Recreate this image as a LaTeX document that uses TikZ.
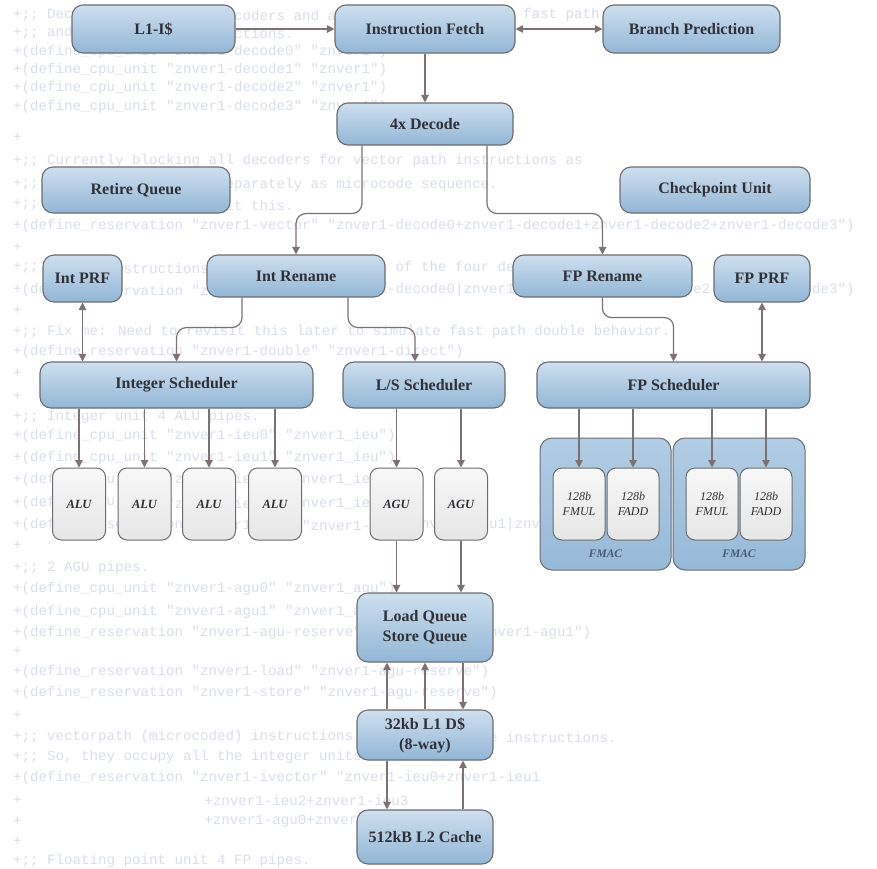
\documentclass[tikz,border=0pt]{standalone}
\usepackage{fontspec}
\usetikzlibrary{arrows.meta}
\newfontfamily\zcode{Liberation Mono}
\newfontfamily\zser{Liberation Serif}
\definecolor{boxtop}{RGB}{206,223,239}
\definecolor{boxbot}{RGB}{146,182,214}
\definecolor{bordc}{RGB}{108,108,112}
\definecolor{unittop}{RGB}{248,248,248}
\definecolor{unitbot}{RGB}{230,230,230}
\definecolor{fmactop}{RGB}{178,205,229}
\definecolor{fmacbot}{RGB}{150,185,216}
\definecolor{connc}{RGB}{125,113,113}
\definecolor{txtc}{RGB}{48,48,54}
\definecolor{fmactxt}{RGB}{72,90,118}
\definecolor{codec}{RGB}{217,222,232}
\newcommand\zbxfont{\zser\bfseries\fontsize{16}{20}\selectfont}
\newcommand\zunitfont{\zser\bfseries\itshape\fontsize{12.5}{15}\selectfont}
\newcommand\zfpfont{\zser\itshape\fontsize{12}{15}\selectfont}
\newcommand\zfmacfont{\zser\bfseries\itshape\fontsize{11.5}{13}\selectfont}
\newcommand\zcodefont{\zcode\fontsize{14.164}{16}\selectfont}
\tikzset{
  box/.style={draw=bordc, line width=1.1pt, rounded corners=11pt, top color=boxtop, bottom color=boxbot,
    font=\zbxfont, text=txtc, inner sep=0pt, align=center},
  unitbox/.style={draw=bordc, line width=1pt, rounded corners=9pt, top color=unittop, bottom color=unitbot,
    font=\zunitfont, text=txtc, inner sep=0pt, align=center, minimum width=53pt, minimum height=72pt},
  fpbox/.style={unitbox, font=\zfpfont, minimum width=52pt},
  fmacbox/.style={draw=bordc, line width=1pt, rounded corners=12pt, top color=fmactop, bottom color=fmacbot,
    inner sep=0pt, minimum height=132pt},
  fmaclbl/.style={font=\zfmacfont, text=fmactxt, inner sep=0pt},
  conn/.style={draw=connc, line width=1.2pt, -{Triangle[width=7.5pt,length=7.5pt]}},
  dconn/.style={draw=connc, line width=1.2pt, {Triangle[width=7.5pt,length=7.5pt]}-{Triangle[width=7.5pt,length=7.5pt]}},
  code/.style={anchor=west, inner sep=0pt, font=\zcodefont, text=codec},
}
% code fragment: column, y, text
\newcommand\cf[3]{\node[code] (cf#2x#1) at ({13+8.5*#1},#2) {#3};}
\begin{document}
\begin{tikzpicture}[x=1pt,y=-1pt]
\useasboundingbox[fill=white] (0,0) rectangle (877,868);

% background code listing (only the parts not hidden by the boxes)
\cf{0}{15}{+;; Dec}\cf{26}{15}{coders and a}\cf{58}{15}{e fast path}
\cf{0}{33}{+;; and}\cf{26}{33}{ctions.}
\cf{0}{52}{+(define\_cpu\_unit "znver1-decode0" "znver1")}
\cf{0}{70}{+(define\_cpu\_unit "znver1-decode1" "znver1")}
\cf{0}{88}{+(define\_cpu\_unit "znver1-decode2" "znver1")}
\cf{0}{107}{+(define\_cpu\_unit "znver1-decode3" "znver1")}
\cf{0}{137}{+}
\cf{0}{161}{+;; Currently blocking all decoders for vector path instructions as}
\cf{0}{185}{+;;}\cf{24}{185}{separately as microcode sequence.}
\cf{0}{205}{+;;}\cf{24}{205}{sit this.}
\cf{0}{226}{+(define\_reservation "znver1-vector" "znver1-decode0+znver1-decode1+znver1-decode2+znver1-decode3")}
\cf{0}{247}{+}
\cf{0}{268}{+;;}\cf{11}{268}{instructions}\cf{43}{268}{y of the four de}
\cf{0}{290}{+(de}\cf{12}{290}{ervation "z}\cf{43}{290}{1-decode0|znver1}\cf{79}{290}{de2|}\cf{93}{290}{ode3")}
\cf{0}{310}{+}
\cf{0}{332}{+;; Fix me: Need to revisit this later to simulate fast path double behavior.}
\cf{0}{352}{+(define\_reservation "znver1-double" "znver1-direct")}
\cf{0}{373}{+}
\cf{0}{396}{+}
\cf{0}{417}{+;; Integer unit 4 ALU pipes.}
\cf{0}{436}{+(define\_cpu\_unit "znver1-ieu0" "znver1\_ieu")}
\cf{0}{458}{+(define\_cpu\_unit "znver1-ieu1" "znver1\_ieu")}
\cf{0}{480}{+(define\_cpu\_unit "znver1-ieu2" "znver1\_ieu")}
\cf{0}{503}{+(def}\cf{10}{503}{pu\_}\cf{18}{503}{"zn}\cf{25}{503}{-ie}\cf{33}{503}{znver1\_ieu}
\cf{0}{525}{+(def}\cf{10}{525}{ese}\cf{18}{525}{on}\cf{25}{525}{er1}\cf{34}{525}{"znver1-i}\cf{47}{525}{znv}\cf{55}{525}{eu1|znv}
\cf{0}{545}{+}
\cf{0}{568}{+;; 2 AGU pipes.}
\cf{0}{589}{+(define\_cpu\_unit "znver1-agu0" "znver1\_agu")}
\cf{0}{612}{+(define\_cpu\_unit "znver1-agu1" "znver1\_a}
\cf{0}{633}{+(define\_reservation "znver1-agu-reserve"}\cf{55}{633}{znver1-agu1")}
\cf{0}{651}{+}
\cf{0}{672}{+(define\_reservation "znver1-load" "znver1-agu-reserve")}
\cf{0}{693}{+(define\_reservation "znver1-store" "znver1-agu-reserve")}
\cf{0}{715}{+}
\cf{0}{737}{+;; vectorpath (microcoded) instructions}\cf{56}{737}{e instructions.}
\cf{0}{757}{+;; So, they occupy all the integer units.}
\cf{0}{778}{+(define\_reservation "znver1-ivector" "znver1-ieu0+znver1-ieu1}
\cf{0}{800}{+}\cf{22.5}{800}{+znver1-ieu2+znver1-ieu3}
\cf{0}{821}{+}\cf{22.5}{821}{+znver1-agu0+znver1-agu1")}
\cf{0}{841}{+}
\cf{0}{861}{+;; Floating point unit 4 FP pipes.}

% main boxes
\node[box, minimum width=163pt, minimum height=48pt] (l1i) at (153.5,29) {L1-I\$};
\node[box, minimum width=180pt, minimum height=48pt] (ifetch) at (425,29) {Instruction Fetch};
\node[box, minimum width=177pt, minimum height=48pt] (bp) at (691.5,29) {Branch Prediction};
\node[box, minimum width=176pt, minimum height=42pt] (dec) at (425,124) {4x Decode};
\node[box, minimum width=188pt, minimum height=46pt] (rq) at (136,190) {Retire Queue};
\node[box, minimum width=190pt, minimum height=46pt] (cpu) at (715,190) {Checkpoint Unit};
\node[box, minimum width=79pt, minimum height=47pt] (iprf) at (82.5,278.5) {Int PRF};
\node[box, minimum width=178pt, minimum height=42pt] (irn) at (296,276) {Int Rename};
\node[box, minimum width=179pt, minimum height=42pt] (fpr) at (602.5,276) {FP Rename};
\node[box, minimum width=96pt, minimum height=47pt] (fpprf) at (762,278.5) {FP PRF};
\node[box, minimum width=273pt, minimum height=46pt] (isch) at (176.5,385) {Integer Scheduler};
\node[box, minimum width=162pt, minimum height=46pt] (lss) at (424,385) {L/S Scheduler};
\node[box, minimum width=273pt, minimum height=46pt] (fps) at (673.5,385) {FP Scheduler};

% execution units
\node[unitbox] (alu1) at (79,504) {ALU};
\node[unitbox] (alu2) at (144.5,504) {ALU};
\node[unitbox] (alu3) at (209,504) {ALU};
\node[unitbox] (alu4) at (275,504) {ALU};
\node[unitbox] (agu1) at (396.5,504) {AGU};
\node[unitbox] (agu2) at (461,504) {AGU};

\node[fmacbox, minimum width=131pt] (fmac1) at (605.5,504) {};
\node[fmacbox, minimum width=132pt] (fmac2) at (739,504) {};
\node[fpbox] (fmul1) at (579,504) {128b\\FMUL};
\node[fpbox] (fadd1) at (633,504) {128b\\FADD};
\node[fpbox] (fmul2) at (712,504) {128b\\FMUL};
\node[fpbox] (fadd2) at (766,504) {128b\\FADD};
\node[fmaclbl] (fl1) at (605.5,554) {FMAC};
\node[fmaclbl] (fl2) at (739,554) {FMAC};

% memory
\node[box, minimum width=136pt, minimum height=69pt] (lsq) at (425,627.5) {Load Queue\\Store Queue};
\node[box, minimum width=136pt, minimum height=50pt] (l1d) at (425,735) {32kb L1 D\$\\(8-way)};
\node[box, minimum width=136pt, minimum height=54pt] (l2) at (425,837) {512kB L2 Cache};

% connectors
\draw[conn] (l1i.east) -- (ifetch.west);
\draw[dconn] (ifetch.east) -- (bp.west);
\draw[conn] (ifetch.south) -- (dec.north);
\draw[conn, rounded corners=10pt] ([xshift=-63pt]dec.south) -- ++(0,68) -| (irn.north);
\draw[conn, rounded corners=10pt] ([xshift=62pt]dec.south) -- ++(0,68) -| (fpr.north);
\draw[conn, rounded corners=10pt] ([xshift=-54pt]irn.south) -- ++(0,30) -| (isch.north);
\draw[conn, rounded corners=10pt] ([xshift=52pt]irn.south) -- ++(0,30) -| ([xshift=-9pt]lss.north);
\draw[conn, rounded corners=9pt] (fpr.south) -- ++(0,20) -| (fps.north);
\draw[dconn] (iprf.south) -- (iprf.south |- isch.north);
\draw[dconn] (fpprf.south) -- (fpprf.south |- fps.north);
\foreach \u in {alu1,alu2,alu3,alu4} \draw[conn] (\u.north |- isch.south) -- (\u.north);
\foreach \u in {agu1,agu2} \draw[conn] (\u.north |- lss.south) -- (\u.north);
\foreach \u in {fmul1,fadd1,fmul2,fadd2} \draw[conn] (\u.north |- fps.south) -- (\u.north);
\foreach \u in {agu1,agu2} \draw[conn] (\u.south) -- (\u.south |- lsq.north);
\draw[conn] ([xshift=-38pt]l1d.north) -- ([xshift=-38pt]lsq.south);
\draw[conn] (l1d.north) -- (lsq.south);
\draw[conn] ([xshift=38pt]lsq.south) -- ([xshift=38pt]l1d.north);
\draw[conn] ([xshift=-38pt]l1d.south) -- ([xshift=-38pt]l2.north);
\draw[conn] ([xshift=38pt]l2.north) -- ([xshift=38pt]l1d.south);
\end{tikzpicture}
\end{document}
